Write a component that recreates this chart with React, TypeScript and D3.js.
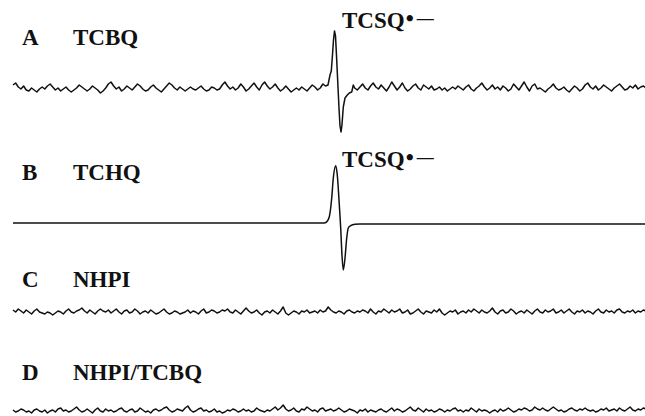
import * as d3 from 'd3';

// Magnetic field axis (G), shared by all four spectra
const fieldRange = [3440, 3540];

const letters = ['A', 'B', 'C', 'D'];
const samples = ['TCBQ', 'TCHQ', 'NHPI', 'NHPI/TCBQ'];
const radicalLabel = 'TCSQ';

// baseline noise, evenly spaced over the field range
const noiseA = [
  3, 5, 1, -1, 2, -2, -3, 0, -2, -4, -1, 1, -1, 2, 4, 1, -2, 0, -3, -1,
  1, -2, -4, -2, 0, 3, 1, -1, -3, -1, 2, 0, -2, -5, -3, 0, 4, 6, 2, -1,
  1, -3, -1, 2, 0, -2, 1, 4, 2, -1, -3, -2, 1, 3, 0, -2, -4, -1, 2, 5,
  3, 0, -2, 1, -1, -3, -1, 1, -1, -2, 0, 2, -1, -3, -2, 1, 0, -2, -1, 3,
  6, 2, -1, 1, -2, 0, 4, 1, -3, -1, 2, 5, 1, -2, 3, 6, 2, -1, 1, 4,
  0, -3, -1, 2, -1, -4, -2, 0, -2, 1, -1, -3, 0, 3, 1, -2, 0, 4, 2, -1,
  0, 1, -1, 2, 0, -1, 1, 0, -1, 0, -2, 1, 4, 0, -2, 2, 5, 1, -1, 3,
  0, -3, 1, 6, 2, -2, 1, 5, 0, -3, -1, 2, 4, 0, -2, 3, 1, -1, 2, -2,
  -1, 1, -2, 0, -3, -1, 1, -1, 2, 0, -2, 1, 3, -1, -3, 0, 2, 5, 1, -2,
  0, 3, -1, 1, -2, 2, 0, -3, -1, 4, 1, -2, 2, 6, 1, -3, 2, 4, -1, 0,
  -2, -4, -1, 1, 4, 0, -2, -1, 1, -2, -4, -1, 2, 0, -3, -1, 3, 5, 1, -1,
  2, -2, 0, 3, 1, -1, -3, 0, 2, 4, 1, -2, -1, 2, 0, 3, -1, 1, 2, 0,
];

const noiseC = [
  2, 0, 3, 1, -1, 2, 0, -2, 1, 3, 0, -1, -2, 0, -1, -3, -1, 1, 0, -2,
  1, 3, 0, -1, 1, 2, 4, 1, -1, 2, 0, -2, 1, 3, 1, 0, 2, -1, 1, 3,
  0, -2, 1, 2, -1, 0, 3, 1, -2, 0, 1, -1, 2, 0, -2, -1, 1, 3, 0, -2,
  -1, 1, 0, -2, -1, 0, 2, -1, 1, 0, -2, 1, 3, -1, 0, 2, 1, -1, 0, 2,
  1, 3, 0, -1, 2, 0, -2, 1, 4, 1, -1, 0, 2, -1, -3, 0, 1, -1, 2, 0,
  -2, 1, 5, -1, -3, -1, 1, 0, -2, 1, 0, 2, -1, 0, 1, -1, 2, 0, 1, 5,
  2, 0, -1, 1, 0, -2, 1, 2, 0, -1, 1, 0, 2, 1, -1, 3, 0, -2, 1, 0,
  3, 1, -1, 2, 0, 1, 3, -1, 0, 2, -2, -1, 1, 3, 0, -2, 1, 0, -1, 2,
  0, 3, -1, -3, -1, 1, 0, 2, -2, 0, 1, -1, 2, 0, 3, 1, -1, 2, 0, -1,
  1, 4, 0, -2, 1, 2, -1, 0, 3, 1, -2, 0, 1, -1, 2, 0, -2, 1, 3, 0,
  -1, 2, 0, 1, 3, -1, 0, 2, -1, 1, 3, 0, -2, 1, 0, 2, -1, 1, 0, -2,
  1, 3, 0, -1, 2, 0, 1, -1, 2, 3, 0, -1, 1, 0, 2, -1, 1, 0, 2, 1,
];

const noiseD = [
  1, -1, 0, 2, 1, -1, 0, -2, 1, 2, 0, -1, 1, -2, 0, 1, -1, 2, 3, 0,
  1, -1, 0, 2, 4, 1, -1, 0, 2, 0, -2, 1, 3, 0, -1, 2, 0, 1, -1, 0,
  2, 3, 0, -1, 1, 2, -1, 0, 3, 1, -1, 0, -2, 1, 2, 0, 1, 3, 4, 1,
  -1, 0, 2, 1, 0, 3, 5, 1, -1, 0, 2, 3, 0, 1, -1, 0, 2, -1, 0, -2,
  -1, 1, 0, 2, 1, -1, 0, 2, 0, 1, -1, 0, 3, 1, 0, -1, 1, 0, 2, 4,
  1, 3, 6, 2, 0, 1, 3, 0, -1, 2, 1, 4, 2, 0, 1, -1, 2, 3, 0, 1,
  2, 0, 1, 3, 1, -1, 0, 2, 1, 0, -2, 1, 0, 2, -1, 1, 0, -1, 1, 2,
  0, -1, 1, 3, 0, 2, 1, -1, 0, 2, 4, 1, 0, 3, 1, -1, 2, 0, 1, -1,
  0, 2, 1, -1, 1, 0, 2, 3, 0, 1, -1, 1, 0, 3, 1, -1, 2, 0, 1, 0,
  -2, 0, 1, -1, 2, 0, 1, 3, 1, -1, 0, 2, 1, 3, 2, 0, 1, 4, 2, 1,
  3, 1, 0, 2, 4, 2, 0, 1, -1, 0, 2, 3, 1, 0, 2, 1, 3, 1, 0, 1,
  -1, 0, 2, 1, 3, 0, 1, 2, 0, 3, 1, 0, 2, 4, 1, 0, 2, 1, 3, 2,
];

// TCSQ radical anion line: [field (G), intensity]
const peakA: [number, number][] = [
  [3489.76, 3], [3490.08, 13], [3490.28, 17], [3490.47, 33], [3490.63, 48],
  [3490.79, 57], [3490.95, 52], [3491.11, 32], [3491.31, 5], [3491.5, -20],
  [3491.66, -38], [3491.82, -44], [3491.97, -37], [3492.18, -19], [3492.45, -10],
  [3492.81, -7], [3493.13, -5], [3493.51, -4], [3493.76, 3],
];

const peakB: [number, number][] = [
  [3440, 0], [3489.0, 0], [3489.29, 0.2], [3489.56, 1.3], [3489.97, 6.3],
  [3490.35, 25], [3490.6, 45], [3490.98, 57.3], [3491.23, 48], [3491.55, 18],
  [3491.77, -5], [3491.97, -32], [3492.18, -47], [3492.45, -35], [3492.72, -15],
  [3492.97, -5], [3493.35, -2.7], [3494.03, -1.3], [3494.8, -1], [3540, -1],
];

function noisePoints(noise: number[], skip?: [number, number]): [number, number][] {
  const step = (fieldRange[1] - fieldRange[0]) / (noise.length - 1);
  return noise
    .map((v, i) => [fieldRange[0] + i * step, v] as [number, number])
    .filter(d => !skip || d[0] < skip[0] || d[0] > skip[1]);
}

const traceA = [...noisePoints(noiseA, [3489.5, 3493.9]), ...peakA].sort((a, b) => a[0] - b[0]);
const traceC = noisePoints(noiseC);
const traceD = noisePoints(noiseD);

export default function App() {
  const width = 645;
  const height = 416;

  const x = d3.scaleLinear().domain(fieldRange).range([13, 646]);
  const y = d3.scaleLinear().domain([-50, 50]).range([50, -50]);

  const jagged = d3.line<[number, number]>().x(d => x(d[0])).y(d => y(d[1]));
  const smooth = d3.line<[number, number]>().x(d => x(d[0])).y(d => y(d[1])).curve(d3.curveMonotoneX);

  const traces = [
    { path: jagged(traceA), base: 88 },
    { path: smooth(peakB), base: 223 },
    { path: jagged(traceC), base: 312 },
    { path: jagged(traceD), base: 411 },
  ];
  const labelBase = [45, 180, 287, 380];
  const radicalBase = [28, 167];

  const font = "'Liberation Serif', 'Times New Roman', serif";

  return (
    <svg width={width} height={height} style={{ position: 'absolute', left: 0, top: 0, background: '#fff' }}>
      <g fontFamily={font} fontWeight="bold" fontSize={23} fill="#111">
        {letters.map((l, i) => (
          <g key={l}>
            <text x={22} y={labelBase[i]}>{l}</text>
            <text x={73} y={labelBase[i]}>{samples[i]}</text>
          </g>
        ))}
        {radicalBase.map(b => (
          <text key={b} x={342} y={b}>
            {radicalLabel}
            <tspan dx={1} dy={-2}>•</tspan>
            <tspan fontSize={17} dx={3} dy={-2}>—</tspan>
          </text>
        ))}
      </g>
      {traces.map((t, i) => (
        <path key={i} d={t.path ?? ''} transform={`translate(0,${t.base})`}
          fill="none" stroke="#111" strokeWidth={1.5} strokeLinejoin="round" />
      ))}
    </svg>
  );
}
